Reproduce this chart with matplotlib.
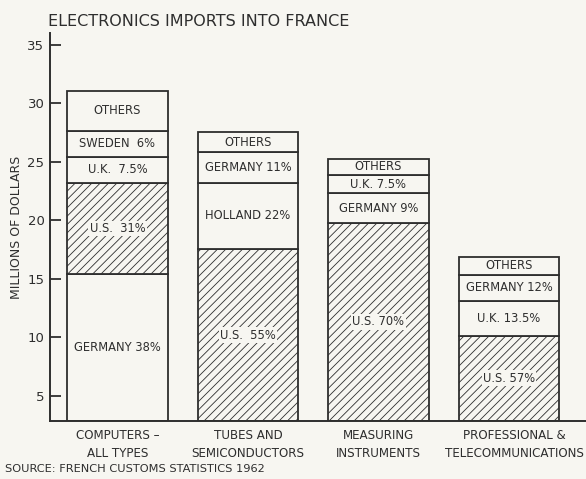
import matplotlib.pyplot as plt
import matplotlib as mpl
from matplotlib.transforms import ScaledTranslation

# Electronics imports into France, 1962 (millions of dollars)
# Each bar is a stack of segments; tops are the cumulative boundaries.
categories = ["COMPUTERS \u2013\nALL TYPES", "TUBES AND\nSEMICONDUCTORS",
              "MEASURING\nINSTRUMENTS", "PROFESSIONAL &\nTELECOMMUNICATIONS"]

computers_tops = [15.4, 23.2, 25.4, 27.65, 31.05]
computers_labels = ["GERMANY 38%", "U.S.  31%", "U.K.  7.5%", "SWEDEN  6%", "OTHERS"]
computers_hatch = [False, True, False, False, False]

tubes_tops = [17.55, 23.2, 25.8, 27.55]
tubes_labels = ["U.S.  55%", "HOLLAND 22%", "GERMANY 11%", "OTHERS"]
tubes_hatch = [True, False, False, False]

measuring_tops = [19.8, 22.3, 23.9, 25.25]
measuring_labels = ["U.S. 70%", "GERMANY 9%", "U.K. 7.5%", "OTHERS"]
measuring_hatch = [True, False, False, False]

prof_tops = [10.15, 13.1, 15.35, 16.9]
prof_labels = ["U.S. 57%", "U.K. 13.5%", "GERMANY 12%", "OTHERS"]
prof_hatch = [True, False, False, False]

y_ticks = [5, 10, 15, 20, 25, 30, 35]
y_floor = 2.86   # axis floor, bars rise from here

stacks = [
    (computers_tops, computers_labels, computers_hatch),
    (tubes_tops, tubes_labels, tubes_hatch),
    (measuring_tops, measuring_labels, measuring_hatch),
    (prof_tops, prof_labels, prof_hatch),
]

paper = "#f7f6f1"
ink = "#2e2e2e"

mpl.rcParams["hatch.linewidth"] = 0.6
mpl.rcParams["hatch.color"] = "#6a6a6a"
plt.rcParams["font.family"] = ["DejaVu Sans"]

fig = plt.figure(figsize=(5.86, 4.79), dpi=100, facecolor=paper)
ax = fig.add_axes([50 / 586, 58 / 479, 536 / 586, 388 / 479])
ax.set_facecolor(paper)

bar_w = 0.77
for i, (tops, labels, hatched) in enumerate(stacks):
    bottom = y_floor
    for top, lab, h in zip(tops, labels, hatched):
        ax.bar(i, top - bottom, bottom=bottom, width=bar_w,
               facecolor=paper, edgecolor=ink, linewidth=1.3,
               hatch="////" if h else None)
        ax.text(i, (top + bottom) / 2, lab, ha="center", va="center",
                fontsize=8.3, color=ink,
                bbox=dict(facecolor=paper, edgecolor="none", pad=1.0) if h else None)
        bottom = top

ax.set_xlim(-0.517, 3.59)
ax.set_ylim(y_floor, 36.0)
ax.set_yticks(y_ticks)
ax.set_yticklabels([str(t) for t in y_ticks], fontsize=9.5, color=ink)
ax.tick_params(axis="y", direction="in", length=8, width=1.3, color=ink, pad=4)
ax.set_xticks(range(len(categories)))
ax.set_xticklabels(categories, fontsize=8.6, color=ink, linespacing=1.5)
ax.tick_params(axis="x", length=0, pad=6)
# last category label sits a little to the right of its bar
last = ax.get_xticklabels()[-1]
last.set_transform(last.get_transform() + ScaledTranslation(0.05, 0, fig.dpi_scale_trans))

for side in ["top", "right"]:
    ax.spines[side].set_visible(False)
for side in ["left", "bottom"]:
    ax.spines[side].set_color(ink)
    ax.spines[side].set_linewidth(1.4)

ax.set_ylabel("MILLIONS OF DOLLARS", fontsize=9, color=ink, labelpad=3)

fig.text(48 / 586, 1 - 21 / 479, "ELECTRONICS IMPORTS INTO FRANCE",
         fontsize=11.5, color=ink, ha="left", va="center")
fig.text(5 / 586, 1 - 469 / 479, "SOURCE: FRENCH CUSTOMS STATISTICS 1962",
         fontsize=8.2, color=ink, ha="left", va="center")

fig.savefig("out.png", dpi=100, facecolor=paper)
